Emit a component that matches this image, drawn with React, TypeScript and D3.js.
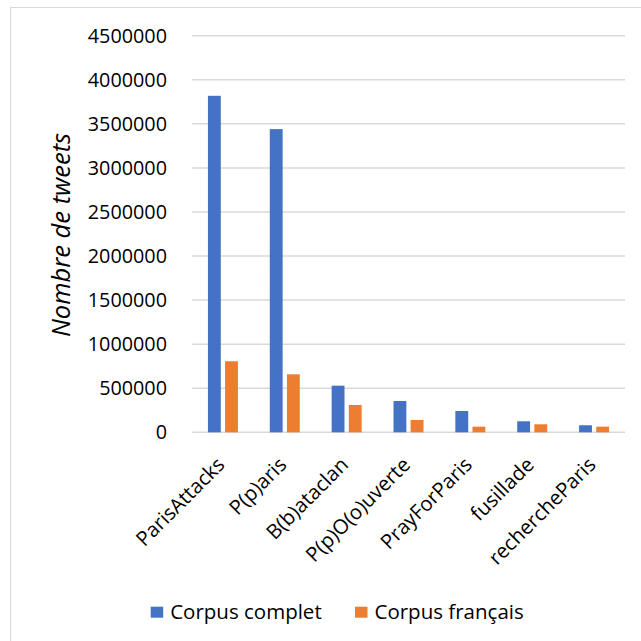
import React from "react";
import * as d3 from "d3";

const categories = ["ParisAttacks", "P(p)aris", "B(b)ataclan", "P(p)O(o)uverte", "PrayForParis", "fusillade", "rechercheParis"];
const seriesNames = ["Corpus complet", "Corpus français"];
const corpusComplet = [3818000, 3440000, 529000, 355000, 242000, 125000, 80000];
const corpusFrancais = [806000, 658000, 310000, 140000, 64000, 91000, 64000];
const yTicks = [0, 500000, 1000000, 1500000, 2000000, 2500000, 3000000, 3500000, 4000000, 4500000];
const colors = ["#4472C4", "#ED7D31"];
const yTitle = "Nombre de tweets";

export default function App() {
  const W = 641, H = 641;
  const left = 192, right = 625, top = 35.7, bottom = 432.3;
  const font = "'Open Sans', Lato, sans-serif";
  const fs = 19.8;
  const y = d3.scaleLinear().domain([0, 4500000]).range([bottom, top]);
  const x0 = d3.scaleBand<string>().domain(categories).range([left, right]).paddingInner(0).paddingOuter(0);
  const x1 = d3.scaleBand<string>().domain(seriesNames).range([-15, 15]).paddingInner(0.25);
  const values = [corpusComplet, corpusFrancais];

  return (
    <svg width={W} height={H} style={{ position: "absolute", left: 0, top: 0 }} fontFamily={font}>
      <rect x={0} y={0} width={W} height={H} fill="#fff" />
      <rect x={10.5} y={7.5} width={W + 10} height={H + 10} fill="none" stroke="#D9D9D9" strokeWidth={1} />
      {yTicks.map((t) => (
        <g key={t}>
          <line x1={left} x2={right} y1={y(t)} y2={y(t)} stroke="#D9D9D9" strokeWidth={1.5} />
          <text x={167} y={y(t)} dy="0.35em" textAnchor="end" fontSize={fs} fill="#000">
            {t}
          </text>
        </g>
      ))}
      {categories.map((c, i) => (
        <g key={c}>
          {seriesNames.map((s, j) => {
            const cx = x0(c)! + x0.bandwidth() / 2;
            const v = values[j][i];
            return (
              <rect
                key={s}
                x={cx + x1(s)!}
                y={y(v)}
                width={x1.bandwidth()}
                height={bottom - y(v)}
                fill={colors[j]}
              />
            );
          })}
          <text
            transform={`translate(${x0(c)! + x0.bandwidth() / 2 + 3},${466}) rotate(-45)`}
            textAnchor="end"
            fontSize={20.3}
            fill="#000"
          >
            {c}
          </text>
        </g>
      ))}
      <text
        transform={`translate(70,${235}) rotate(-90)`}
        textAnchor="middle"
        fontSize={25.5}
        fontStyle="italic"
        fill="#000"
      >
        {yTitle}
      </text>
      {seriesNames.map((s, j) => {
        const lx = [150.7, 355][j];
        return (
          <g key={s}>
            <rect x={lx} y={606.7} width={12.5} height={11} fill={colors[j]} />
            <text x={lx + 19.5} y={612} dy="0.35em" fontSize={20.5} fill="#000">
              {s}
            </text>
          </g>
        );
      })}
    </svg>
  );
}
